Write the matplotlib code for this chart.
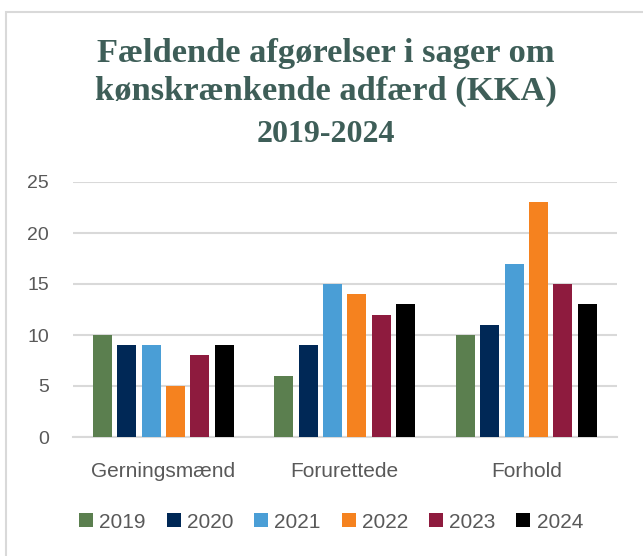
import numpy as np
import matplotlib.pyplot as plt
from matplotlib.patches import Rectangle

categories = ["Gerningsmænd", "Forurettede", "Forhold"]
years = ["2019", "2020", "2021", "2022", "2023", "2024"]
values = {
    "2019": [10, 6, 10],
    "2020": [9, 9, 11],
    "2021": [9, 15, 17],
    "2022": [5, 14, 23],
    "2023": [8, 12, 15],
    "2024": [9, 13, 13],
}
colors = ["#5B7F4F", "#002856", "#4A9ED6", "#F5821F", "#8E1B3E", "#000000"]

fig = plt.figure(figsize=(6.43, 5.56), dpi=100)
# outer chart border
fig.patches.append(Rectangle((6 / 643, -0.05), 1.0, 1 - 12 / 556 + 0.05,
                             transform=fig.transFigure, fill=False,
                             edgecolor="#d9d9d9", linewidth=1.5))

ax = fig.add_axes([72.5 / 643, 1 - 437 / 556, 544.5 / 643, 255 / 556])

x = np.arange(len(categories))
width = 0.105
pitch = 0.134
for i, yr in enumerate(years):
    ax.bar(x + (i - 2.5) * pitch, values[yr], width, color=colors[i], label=yr, zorder=3)

ax.set_xlim(-0.5, 2.5)
ax.set_ylim(0, 25)
ax.set_yticks(range(0, 26, 5))
ax.grid(axis="y", color="#d9d9d9", linewidth=1.5, zorder=0)
for s in ["top", "right", "left"]:
    ax.spines[s].set_visible(False)
ax.spines["bottom"].set_color("#d9d9d9")
ax.spines["bottom"].set_linewidth(1.5)
ax.set_xticks(x)
ax.set_xticklabels(categories)
ax.tick_params(axis="both", length=0, labelsize=14, labelcolor="#595959",
               labelfontfamily="Liberation Sans")
ax.tick_params(axis="x", pad=18, labelsize=15)
ax.tick_params(axis="y", pad=17)

title_kw = dict(ha="center", va="baseline", fontweight="bold",
                family="Liberation Serif", color="#3E5E58")
tx = 326 / 643
fig.text(tx, 1 - 62 / 556, "Fældende afgørelser i sager om", fontsize=24.8, **title_kw)
fig.text(tx, 1 - 100 / 556, "kønskrænkende adfærd (KKA)", fontsize=24.8, **title_kw)
fig.text(tx, 1 - 142 / 556, "2019-2024", fontsize=23, **title_kw)

fig.legend(loc="center", bbox_to_anchor=(331 / 643, 1 - 522 / 556), ncol=6, frameon=False,
           prop={"family": "Liberation Sans", "size": 15}, labelcolor="#595959",
           handlelength=0.67, handleheight=0.62, handletextpad=0.3, columnspacing=1.0)

fig.savefig("out.png", dpi=100)
